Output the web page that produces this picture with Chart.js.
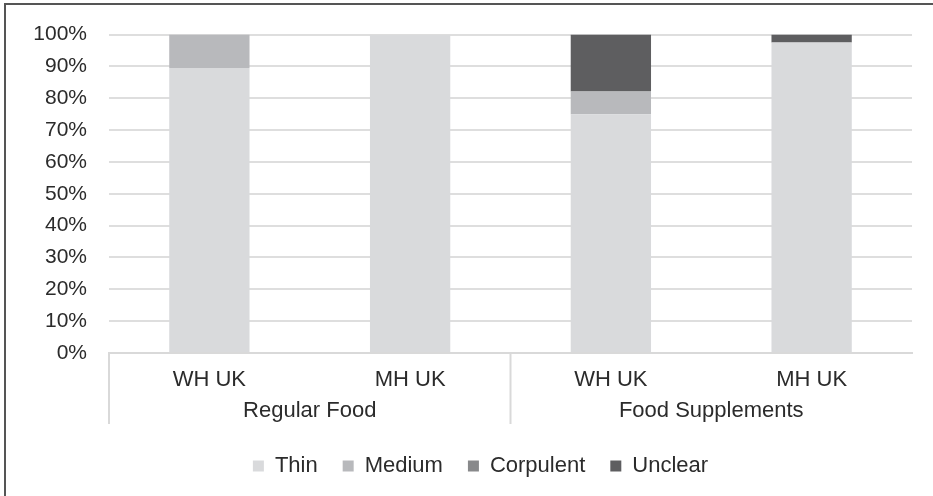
<!DOCTYPE html>
<html>
<head>
<meta charset="utf-8">
<script src="https://cdn.jsdelivr.net/npm/chart.js@4/dist/chart.umd.min.js"></script>
<style>
  html, body { margin: 0; padding: 0; background: #fff; }
  #wrap { position: relative; width: 933px; height: 496px; }
  #frame {
    position: absolute; left: 4px; top: 3px; right: 0; bottom: 0;
    border-left: 2px solid #555; border-top: 2px solid #555;
    pointer-events: none;
  }
</style>
</head>
<body>
<div id="wrap">
  <canvas id="chart" width="933" height="496"></canvas>
  <div id="frame"></div>
</div>
<script>
// categories (inner level) and their groups (outer level)
const categories = ['WH UK', 'MH UK', 'WH UK', 'MH UK'];
const groups = ['Regular Food', 'Food Supplements'];

// series, % of each bar
const thin      = [89.5, 100, 75, 97.5];
const medium    = [10.5, 0, 7.1, 0];
const corpulent = [0, 0, 0, 0];
const unclear   = [0, 0, 17.9, 2.5];

const yTicks = [0, 10, 20, 30, 40, 50, 60, 70, 80, 90, 100];

const FONT = 'Liberation Sans, Arial, sans-serif';
const TXT = '#2b2b2b';

// draws the outer category level + separators under the axis
const groupLabels = {
    id: 'groupLabels',
    beforeDraw(chart) {
        // legend sits a bit right of the canvas centre in the original
        const lg = chart.legend;
        if (lg && !lg._shifted) { lg.left += 22; lg.right += 22; lg._shifted = true; }
    },
    afterDraw(chart) {
        const ctx = chart.ctx;
        const xs = chart.scales.x;
        const top = xs.top;
        ctx.save();
        ctx.strokeStyle = '#d9d9d9';
        ctx.lineWidth = 2;
        const mid = (xs.getPixelForValue(1) + xs.getPixelForValue(2)) / 2;
        [xs.left, mid].forEach(x => {
            ctx.beginPath(); ctx.moveTo(x, top); ctx.lineTo(x, top + 71); ctx.stroke();
        });
        ctx.fillStyle = TXT;
        ctx.font = '22px ' + FONT;
        ctx.textAlign = 'center';
        ctx.textBaseline = 'middle';
        groups.forEach((g, i) => {
            const cx = (xs.getPixelForValue(i * 2) + xs.getPixelForValue(i * 2 + 1)) / 2;
            ctx.fillText(g, cx, top + 58);
        });
        ctx.restore();
    }
};

const mk = (label, data, color) => ({
    label, data, backgroundColor: color,
    barPercentage: 0.4, categoryPercentage: 1, borderWidth: 0
});

new Chart(document.getElementById('chart'), {
    type: 'bar',
    data: {
        labels: categories,
        datasets: [
            mk('Thin', thin, '#d9dadc'),
            mk('Medium', medium, '#b8b9bc'),
            mk('Corpulent', corpulent, '#88898b'),
            mk('Unclear', unclear, '#5e5e60')
        ]
    },
    options: {
        responsive: false,
        animation: false,
        layout: { padding: { left: 5, right: 21, top: 26, bottom: 9 } },
        plugins: {
            tooltip: { enabled: false },
            legend: {
                position: 'bottom',
                labels: {
                    boxWidth: 11, boxHeight: 11, padding: 25,
                    color: TXT, font: { family: FONT, size: 22 }
                }
            }
        },
        scales: {
            x: {
                stacked: true,
                grid: { display: false },
                border: { color: '#d9d9d9', width: 2 },
                ticks: { color: TXT, font: { family: FONT, size: 22 }, padding: 6, maxRotation: 0 },
                afterFit: s => { s.height = 77; }
            },
            y: {
                stacked: true,
                min: 0, max: 100,
                afterBuildTicks: s => { s.ticks = yTicks.map(v => ({ value: v })); },
                grid: { color: '#dedede', lineWidth: 2, drawTicks: false },
                border: { display: false },
                ticks: {
                    color: TXT, font: { family: FONT, size: 21 }, padding: 22,
                    callback: v => v + '%'
                },
                afterFit: s => { s.width = 104; }
            }
        }
    },
    plugins: [groupLabels]
});
</script>
</body>
</html>
